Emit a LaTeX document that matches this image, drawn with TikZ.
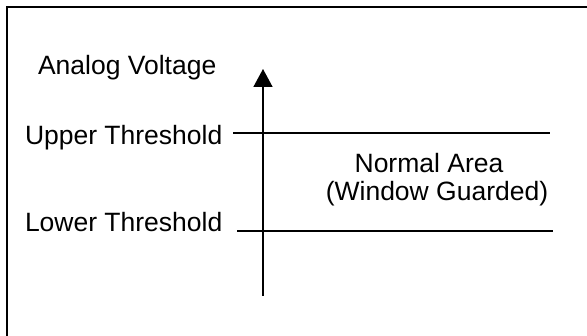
\documentclass[tikz,border=0pt]{standalone}
\usepackage{fontspec}
\setmainfont{Liberation Sans}
\usetikzlibrary{arrows.meta}
\begin{document}
\begin{tikzpicture}[x=1pt,y=1pt,
  lbl/.style={inner sep=0pt,outer sep=0pt,font=\fontsize{26.5}{31}\selectfont},
  frameline/.style={line width=2.2pt},
  thr/.style={line width=1.6pt},
  axis/.style={line width=1.6pt,-{Triangle[width=19pt,length=18pt]}}]
\useasboundingbox (0,0) rectangle (587,336);
% frame (open on right and bottom)
\coordinate (fbl) at (7,0);
\coordinate (ftl) at (7,329);
\coordinate (ftr) at (587,329);
\draw[frameline] (fbl) -- (ftl) -- (ftr);
% labels
\node[lbl,anchor=base west] (av) at (38,261) {Analog Voltage};
\node[lbl,anchor=base west] (ut) at (25,191) {Upper Threshold};
\node[lbl,anchor=base west] (lt) at (25,104) {Lower Threshold};
\node[lbl,anchor=base] (na) at (429,163) {Normal Area};
\node[lbl,anchor=base] (wg) at (437,135) {(Window Guarded)};
% axis
\coordinate (ax0) at (263,40);
\coordinate (ax1) at (263,267);
\draw[axis] (ax0) -- (ax1);
% thresholds
\coordinate (u0) at (233,203);
\coordinate (u1) at (550,203);
\coordinate (l0) at (237,105);
\coordinate (l1) at (553,105);
\draw[thr] (u0) -- (u1);
\draw[thr] (l0) -- (l1);
\end{tikzpicture}
\end{document}
